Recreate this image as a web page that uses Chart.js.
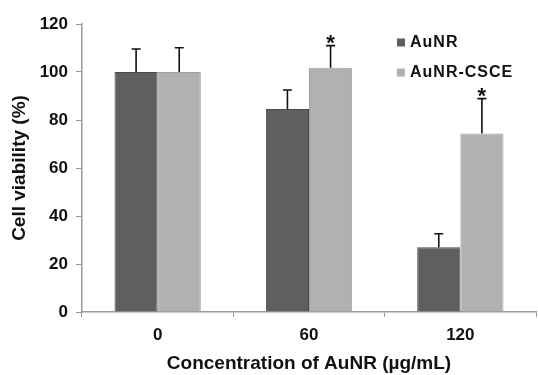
<!DOCTYPE html>
<html>
<head>
<title>Cell viability</title>
<script src="https://cdn.jsdelivr.net/npm/chart.js@4"></script>
<style>
  body { margin: 0; background: #fff; }
  #wrap { width: 538px; height: 375px; }
</style>
</head>
<body>
<div id="wrap"><canvas id="myChart" width="538" height="375"></canvas></div>
<script>
const CATEGORIES = ['0', '60', '120'];
const AUNR = [100, 84.6, 27];
const AUNR_ERR = [9.6, 7.9, 5.6];
const CSCE = [100, 101.8, 74.4];
const CSCE_ERR = [10.1, 9.2, 14.5];
const CSCE_STAR = [false, true, true];
const Y_TICKS = [0, 20, 40, 60, 80, 100, 120];

const FONT = 'Liberation Sans, Arial, sans-serif';

// upper error bars + significance stars
const errorBarPlugin = {
  id: 'errorBars',
  afterDatasetsDraw(chart) {
    const ctx = chart.ctx;
    const y = chart.scales.y;
    chart.data.datasets.forEach((ds, di) => {
      const meta = chart.getDatasetMeta(di);
      meta.data.forEach((bar, i) => {
        const top = y.getPixelForValue(ds.data[i] + ds.err[i]);
        ctx.save();
        ctx.strokeStyle = '#111';
        ctx.lineWidth = 1.6;
        ctx.beginPath();
        ctx.moveTo(bar.x, bar.y);
        ctx.lineTo(bar.x, top);
        ctx.moveTo(bar.x - 4.5, top);
        ctx.lineTo(bar.x + 4.5, top);
        ctx.stroke();
        if (ds.stars && ds.stars[i]) {
          ctx.fillStyle = '#111';
          ctx.font = 'bold 22px ' + FONT;
          ctx.textAlign = 'center';
          ctx.textBaseline = 'alphabetic';
          ctx.fillText('*', bar.x, top + 4);
        }
        ctx.restore();
      });
    });
  }
};

// legend drawn in the upper right of the plot
const legendPlugin = {
  id: 'sideLegend',
  afterDraw(chart) {
    const ctx = chart.ctx;
    ctx.save();
    ctx.font = 'bold 16px ' + FONT;
    ctx.letterSpacing = '1px';
    ctx.textBaseline = 'middle';
    chart.data.datasets.forEach((ds, i) => {
      const yy = 42.5 + i * 30;
      ctx.fillStyle = ds.backgroundColor;
      ctx.fillRect(397, yy - 4, 8, 8);
      ctx.fillStyle = '#111';
      ctx.fillText(ds.label, 410, yy);
    });
    ctx.restore();
  }
};

const ctx = document.getElementById('myChart');
const myChart = new Chart(ctx, {
  type: 'bar',
  data: {
    labels: CATEGORIES,
    datasets: [
      {
        label: 'AuNR',
        data: AUNR,
        err: AUNR_ERR,
        backgroundColor: '#5f5f5f',
        borderColor: '#4a4a4a',
        borderWidth: 1,
        categoryPercentage: 0.57,
        barPercentage: 1.0
      },
      {
        label: 'AuNR-CSCE',
        data: CSCE,
        err: CSCE_ERR,
        stars: CSCE_STAR,
        backgroundColor: '#b1b1b1',
        borderColor: '#a0a0a0',
        borderWidth: 1,
        categoryPercentage: 0.57,
        barPercentage: 1.0
      }
    ]
  },
  options: {
    responsive: false,
    animation: false,
    layout: { padding: { left: 0, right: 2, top: 24, bottom: 0 } },
    plugins: {
      legend: { display: false },
      tooltip: { enabled: false }
    },
    scales: {
      x: {
        grid: { display: true, drawOnChartArea: false, color: '#9a9a9a', tickLength: 5, offset: true },
        border: { color: '#9a9a9a', width: 1.5 },
        ticks: { color: '#111', font: { family: FONT, size: 17, weight: 'bold' }, padding: 8 },
        title: {
          display: true,
          text: 'Concentration of AuNR (µg/mL)',
          color: '#111',
          font: { family: FONT, size: 19, weight: 'bold' },
          padding: { top: 3, bottom: 0 }
        },
        afterFit(scale) { scale.height = 63; }
      },
      y: {
        min: 0,
        max: 120,
        afterBuildTicks(scale) { scale.ticks = Y_TICKS.map(v => ({ value: v })); },
        grid: { display: true, drawOnChartArea: false, color: '#9a9a9a', tickLength: 6 },
        border: { color: '#9a9a9a', width: 1.5 },
        ticks: { color: '#111', font: { family: FONT, size: 17, weight: 'bold' }, padding: 8 },
        title: {
          display: true,
          text: 'Cell viability (%)',
          color: '#111',
          font: { family: FONT, size: 19, weight: 'bold' },
          padding: { top: 8, bottom: 8 }
        },
        afterFit(scale) { scale.width = 82; }
      }
    }
  },
  plugins: [errorBarPlugin, legendPlugin]
});
</script>
</body>
</html>
